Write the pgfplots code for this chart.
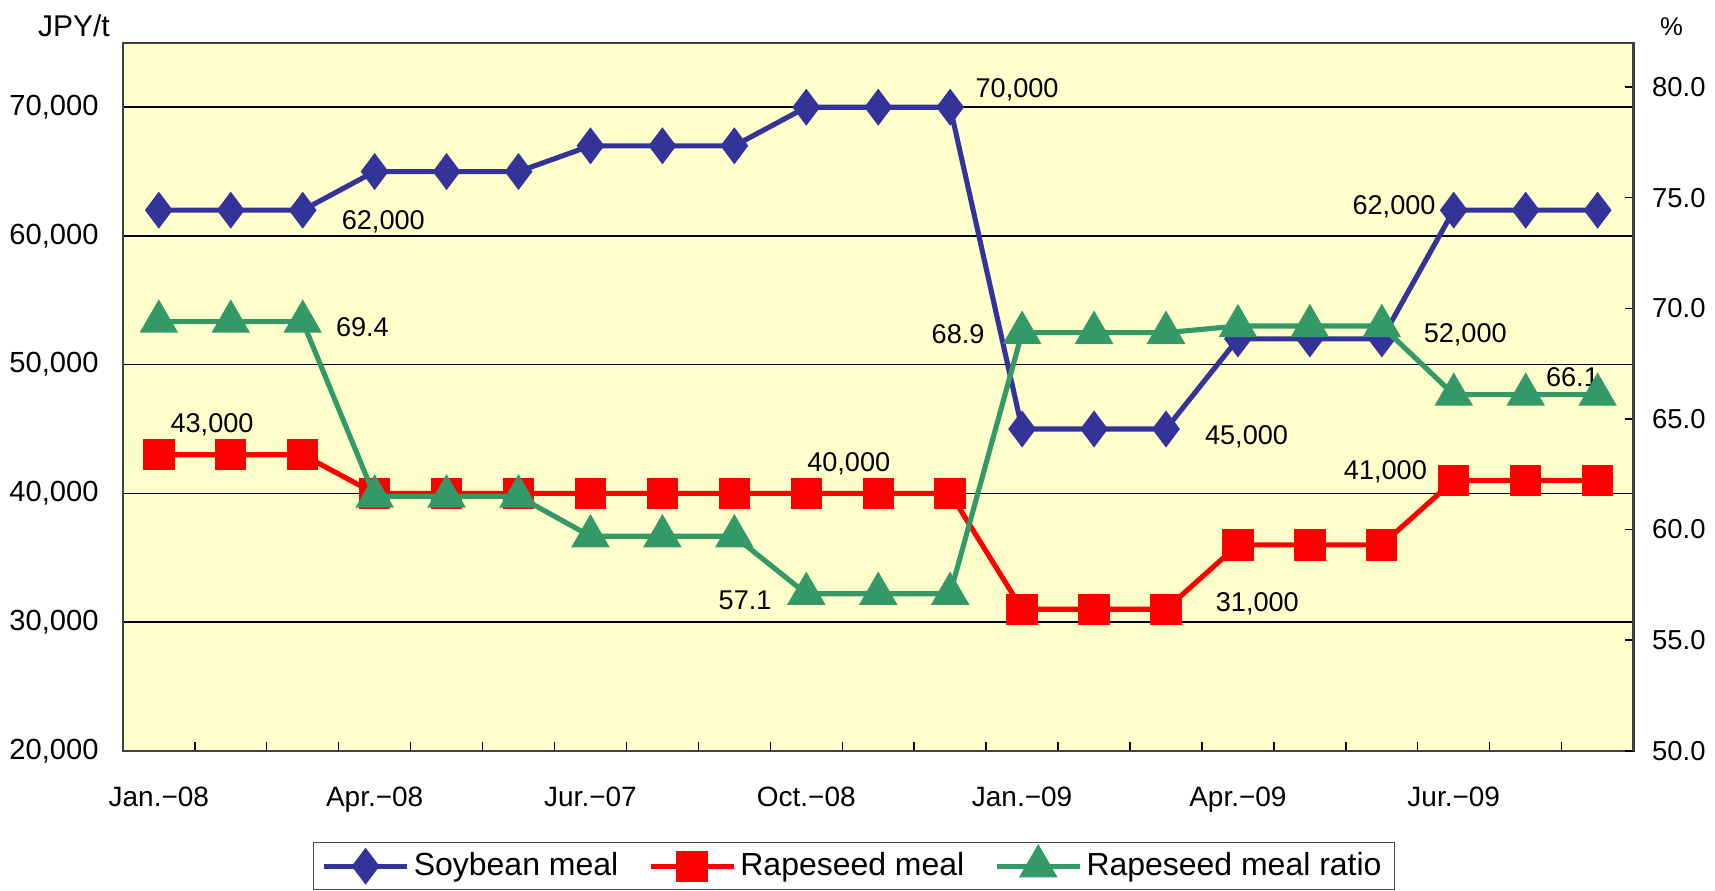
\documentclass[border=0pt]{standalone}
\usepackage{fontspec}
\setmainfont{Liberation Sans}
\usepackage{pgfplots}
\usepackage{pgfplotstable}
\pgfplotsset{compat=1.18}
\definecolor{soy}{HTML}{333399}
\definecolor{rape}{HTML}{FF0000}
\definecolor{ratioc}{HTML}{339966}
\definecolor{bgy}{HTML}{FFFFCC}
\pgfplotstableread{
x soy rape ratio
0 62000 43000 69.4
1 62000 43000 69.4
2 62000 43000 69.4
3 65000 40000 61.5
4 65000 40000 61.5
5 65000 40000 61.5
6 67000 40000 59.7
7 67000 40000 59.7
8 67000 40000 59.7
9 70000 40000 57.1
10 70000 40000 57.1
11 70000 40000 57.1
12 45000 31000 68.9
13 45000 31000 68.9
14 45000 31000 68.9
15 52000 36000 69.2
16 52000 36000 69.2
17 52000 36000 69.2
18 62000 41000 66.1
19 62000 41000 66.1
20 62000 41000 66.1
}\meal
\newcommand{\tickfont}{\fontsize{10.2bp}{12bp}\selectfont}
\newcommand{\rtickfont}{\fontsize{9.6bp}{12bp}\selectfont}
\newcommand{\xfont}{\fontsize{9.8bp}{12bp}\selectfont}
\newcommand{\lblfont}{\fontsize{9.5bp}{11bp}\selectfont}
\newcommand{\legfont}{\fontsize{11.2bp}{13bp}\selectfont}
\begin{document}
\begin{tikzpicture}
\path (-42.7bp,-48.8bp) rectangle (557.6bp,263.0bp);
\begin{axis}[
  at={(0,0)}, anchor=south west,
  scale only axis, width=529.2bp, height=248bp,
  xmin=-0.5, xmax=20.5, ymin=20000, ymax=75000,
  axis background/.style={fill=bgy},
  axis line style={draw=black!75, line width=0.8pt},
  xtick={0.5,1.5,...,19.5}, xticklabels={},
  extra x ticks={0,3,6,9,12,15,18},
  extra x tick labels={Jan.−08,Apr.−08,Jur.−07,Oct.−08,Jan.−09,Apr.−09,Jur.−09},
  extra x tick style={major tick length=0pt, xticklabel style={font=\xfont, yshift=-9bp}},
  xtick pos=bottom, ytick pos=left,
  ytick={20000,30000,40000,50000,60000,70000},
  ymajorgrids, grid style={black, line width=0.5pt},
  major tick length=3bp,
  tick style={black, line width=0.5pt},
  scaled y ticks=false,
  /pgf/number format/assume math mode=true,
  yticklabel style={font=\tickfont, xshift=-5bp, /pgf/number format/1000 sep={,}},
  legend style={at={(0.4838,-0.163)}, anchor=center, draw=black!70, fill=white,
    font=\legfont, legend columns=3, inner xsep=3bp, inner ysep=2bp,
    /tikz/every even column/.append style={column sep=9bp},
    nodes={inner sep=1.5bp}},
  legend image code/.code={\draw[mark repeat=2,mark phase=2,#1] plot coordinates {(0bp,0bp) (14.5bp,0bp) (29bp,0bp)};},
]
\addplot[soy, line width=1.8pt, mark=diamond*, mark size=5bp, mark options={solid}] table[x=x,y=soy]{\meal};
\addlegendentry{Soybean meal}
\addplot[rape, line width=1.8pt, mark=square*, mark size=4.6bp] table[x=x,y=rape]{\meal};
\addlegendentry{Rapeseed meal}
\addlegendimage{ratioc, line width=1.8pt, mark=triangle*, mark size=6bp}
\addlegendentry{Rapeseed meal ratio}
\end{axis}
\begin{axis}[
  at={(0,0)}, anchor=south west,
  scale only axis, width=529.2bp, height=248bp,
  xmin=-0.5, xmax=20.5, ymin=50, ymax=82,
  axis x line=none, axis y line*=right,
  axis line style={-, draw=black!75, line width=0.8pt},
  ytick={50,55,60,65,70,75,80},
  major tick length=3bp,
  tick style={black, line width=0.5pt},
  /pgf/number format/assume math mode=true,
  yticklabel style={font=\rtickfont, xshift=3bp, /pgf/number format/fixed, /pgf/number format/fixed zerofill, /pgf/number format/precision=1},
]
\addplot[ratioc, line width=1.8pt, mark=triangle*, mark size=6bp] table[x=x,y=ratio]{\meal};
\node[font=\lblfont] at (axis cs:11.93,79.89) {70,000};
\node[font=\lblfont] at (axis cs:3.12,73.91) {62,000};
\node[font=\lblfont] at (axis cs:0.74,64.75) {43,000};
\node[font=\lblfont] at (axis cs:2.83,69.16) {69.4};
\node[font=\lblfont] at (axis cs:9.59,62.97) {40,000};
\node[font=\lblfont] at (axis cs:8.15,56.78) {57.1};
\node[font=\lblfont] at (axis cs:11.11,68.81) {68.9};
\node[font=\lblfont] at (axis cs:15.12,64.21) {45,000};
\node[font=\lblfont] at (axis cs:15.27,56.64) {31,000};
\node[font=\lblfont] at (axis cs:17.17,74.60) {62,000};
\node[font=\lblfont] at (axis cs:18.16,68.81) {52,000};
\node[font=\lblfont] at (axis cs:17.05,62.62) {41,000};
\node[font=\lblfont] at (axis cs:19.65,66.88) {66.1};
\end{axis}
\node[font=\fontsize{10.5bp}{12bp}\selectfont] at (-17.15bp,253.9bp) {JPY/t};
\node[font=\fontsize{9bp}{11bp}\selectfont] at (542.5bp,253.6bp) {\%};
\end{tikzpicture}
\end{document}
